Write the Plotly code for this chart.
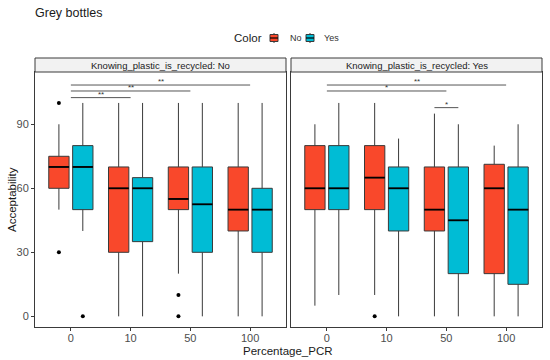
import plotly.graph_objects as go

# ---------------- data ----------------
pcr_levels = ["0", "10", "50", "100"]
panels = ["No", "Yes"]            # Knowing_plastic_is_recycled
colors_grp = ["No", "Yes"]        # Color

# stats[panel][color] = dict of arrays over pcr_levels
stats = {
    "No": {
        "No":  dict(low=[50, 0, 20, 0], q1=[60, 30, 50, 40], med=[70, 60, 55, 50], q3=[75, 70, 70, 70], high=[90, 100, 100, 100]),
        "Yes": dict(low=[40, 0, 0, 0], q1=[50, 35, 30, 30], med=[70, 60, 52.5, 50], q3=[80, 65, 70, 60], high=[100, 100, 100, 100]),
    },
    "Yes": {
        "No":  dict(low=[5, 10, 0, 0], q1=[50, 50, 40, 20], med=[60, 65, 50, 60], q3=[80, 80, 70, 71.25], high=[90, 100, 95, 80]),
        "Yes": dict(low=[10, 0, 0, 0], q1=[50, 40, 20, 15], med=[60, 60, 45, 50], q3=[80, 70, 70, 70], high=[100, 83.3, 90, 90]),
    },
}
# outliers: (pcr level, value)
outliers = {
    "No": {"No": [("0", 100), ("0", 30), ("50", 10), ("50", 0)], "Yes": [("0", 0)]},
    "Yes": {"No": [("10", 0)], "Yes": []},
}
# significance brackets: (panel, from level, from color or None, to level, to color or None, y, label)
brackets = [
    ("No", "0", None, "10", None, 102.5, "**"),
    ("No", "0", None, "50", None, 105.6, "**"),
    ("No", "0", None, "100", None, 108.4, "**"),
    ("Yes", "0", None, "100", None, 108.4, "**"),
    ("Yes", "0", None, "50", None, 105.6, "*"),
    ("Yes", "50", "No", "50", "Yes", 97.8, "*"),
]

# ---------------- style ----------------
FILL = {"No": "#F9482B", "Yes": "#00BCD5"}
DODGE = {"No": -0.2, "Yes": 0.2}
BOXW = 0.34
FONT = "Arial, Liberation Sans, sans-serif"
AX = {"No": "x", "Yes": "x2"}
YA = {"No": "y", "Yes": "y2"}
EDGE = "#3a3a3a"

W, HT = 550, 360
L, R, T, B = 35, 8, 72, 33
PW = W - L - R
H = HT - T - B

def px_x(px):
    return (px - L) / PW

def px_y(py):
    return (HT - B - py) / H

fig = go.Figure()

def xpos(level, color=None):
    i = pcr_levels.index(level) + 1
    return i + (DODGE[color] if color else 0)

for p in panels:
    for c in colors_grp:
        s = stats[p][c]
        xs = [xpos(l, c) for l in pcr_levels]
        fig.add_trace(go.Box(
            x=xs, q1=s["q1"], median=s["med"], q3=s["q3"],
            lowerfence=s["low"], upperfence=s["high"],
            width=BOXW, whiskerwidth=0,
            fillcolor=FILL[c], line=dict(color=EDGE, width=1),
            name=c, showlegend=False,
            boxpoints=False, hoverinfo="skip",
            xaxis=AX[p], yaxis=YA[p],
        ))
        mx, my = [], []
        for x, m in zip(xs, s["med"]):
            mx += [x - BOXW / 2, x + BOXW / 2, None]
            my += [m, m, None]
        fig.add_trace(go.Scatter(x=mx, y=my, mode="lines", line=dict(color="black", width=1.8),
                                 showlegend=False, hoverinfo="skip", xaxis=AX[p], yaxis=YA[p]))
        if outliers[p][c]:
            fig.add_trace(go.Scatter(
                x=[xpos(l, c) for l, v in outliers[p][c]],
                y=[v for l, v in outliers[p][c]],
                mode="markers", marker=dict(color="black", size=4),
                showlegend=False, hoverinfo="skip", xaxis=AX[p], yaxis=YA[p]))

shapes = []
annotations = []
for p, l0, c0, l1, c1, yv, lab in brackets:
    x0, x1 = xpos(l0, c0), xpos(l1, c1)
    shapes.append(dict(type="line", xref=AX[p], yref=YA[p], x0=x0, x1=x1, y0=yv, y1=yv,
                       line=dict(color="#555555", width=1)))
    annotations.append(dict(xref=AX[p], yref=YA[p], x=(x0 + x1) / 2, y=yv, text=lab,
                            showarrow=False, yanchor="bottom", yshift=-3,
                            font=dict(size=8, color="#333333", family=FONT)))

# strips
strip_h = 14 / H
for p in panels:
    xr = AX[p] + " domain"
    shapes.append(dict(type="rect", xref=xr, yref="paper", x0=0, x1=1, y0=1, y1=1 + strip_h,
                       fillcolor="#F2F2F2", line=dict(color=EDGE, width=1)))
    annotations.append(dict(xref=xr, yref="paper", x=0.5, y=1 + strip_h / 2, showarrow=False,
                            yanchor="middle",
                            text="Knowing_plastic_is_recycled: " + p,
                            font=dict(size=9.5, color="#1a1a1a", family=FONT)))

# axis titles
annotations.append(dict(xref="paper", yref="paper", x=px_x(288), y=px_y(351), yanchor="middle",
                        showarrow=False, text="Percentage_PCR",
                        font=dict(size=11.5, color="#1a1a1a", family=FONT)))
annotations.append(dict(xref="paper", yref="paper", x=px_x(12), y=px_y(200), textangle=-90,
                        xanchor="center", yanchor="middle", showarrow=False, text="Acceptability",
                        font=dict(size=11.5, color="#1a1a1a", family=FONT)))

# manual legend
LEG_Y = 38
annotations.append(dict(xref="paper", yref="paper", x=px_x(264), y=px_y(LEG_Y), xanchor="right",
                        yanchor="middle", showarrow=False, text="Color",
                        font=dict(size=11.5, color="#1a1a1a", family=FONT)))
leg_items = [("No", 270, 288), ("Yes", 306, 322)]
for c, icon_x, text_x in leg_items:
    shapes.append(dict(type="line", xref="paper", yref="paper", x0=px_x(icon_x + 4), x1=px_x(icon_x + 4),
                       y0=px_y(LEG_Y - 5), y1=px_y(LEG_Y + 5), line=dict(color=EDGE, width=1)))
    shapes.append(dict(type="rect", xref="paper", yref="paper", x0=px_x(icon_x), x1=px_x(icon_x + 8),
                       y0=px_y(LEG_Y - 3.5), y1=px_y(LEG_Y + 3.5), fillcolor=FILL[c],
                       line=dict(color=EDGE, width=1)))
    shapes.append(dict(type="line", xref="paper", yref="paper", x0=px_x(icon_x), x1=px_x(icon_x + 8),
                       y0=px_y(LEG_Y), y1=px_y(LEG_Y), line=dict(color="black", width=1.2)))
    annotations.append(dict(xref="paper", yref="paper", x=px_x(text_x), y=px_y(LEG_Y), xanchor="left",
                            yanchor="middle", showarrow=False, text=c,
                            font=dict(size=9, color="#333333", family=FONT)))

xcommon = dict(range=[0.4, 4.6], tickvals=[1, 2, 3, 4], ticktext=pcr_levels,
               showline=True, linecolor=EDGE, linewidth=1, mirror=True, automargin=False,
               ticks="outside", ticklen=3, tickcolor=EDGE, showgrid=False, zeroline=False,
               ticklabelstandoff=-2,
               tickfont=dict(size=11, color="#4D4D4D", family=FONT))
ycommon = dict(range=[-5, 114.5], tickvals=[0, 30, 60, 90], automargin=False,
               showline=True, linecolor=EDGE, linewidth=1, mirror=True,
               showgrid=False, zeroline=False)

fig.update_layout(
    width=W, height=HT,
    margin=dict(l=L, r=R, t=T, b=B, autoexpand=False),
    plot_bgcolor="white", paper_bgcolor="white",
    font=dict(family=FONT),
    boxmode="overlay",
    showlegend=False,
    title=dict(text="Grey bottles", x=35 / W, xanchor="left", xref="container",
               y=1 - 13 / HT, yanchor="middle", font=dict(size=12.5, color="#1a1a1a", family=FONT)),
    xaxis=dict(domain=[0, 251 / PW], **xcommon),
    xaxis2=dict(domain=[256 / PW, 1], anchor="y2", **xcommon),
    yaxis=dict(anchor="x", ticks="outside", ticklen=3, tickcolor=EDGE,
               tickfont=dict(size=11, color="#4D4D4D", family=FONT), **ycommon),
    yaxis2=dict(anchor="x2", matches="y", showticklabels=False, ticks="", **ycommon),
    shapes=shapes, annotations=annotations,
)

fig.write_html("out.html", config={"displayModeBar": False},
               post_script="document.body.style.margin='0px';")
